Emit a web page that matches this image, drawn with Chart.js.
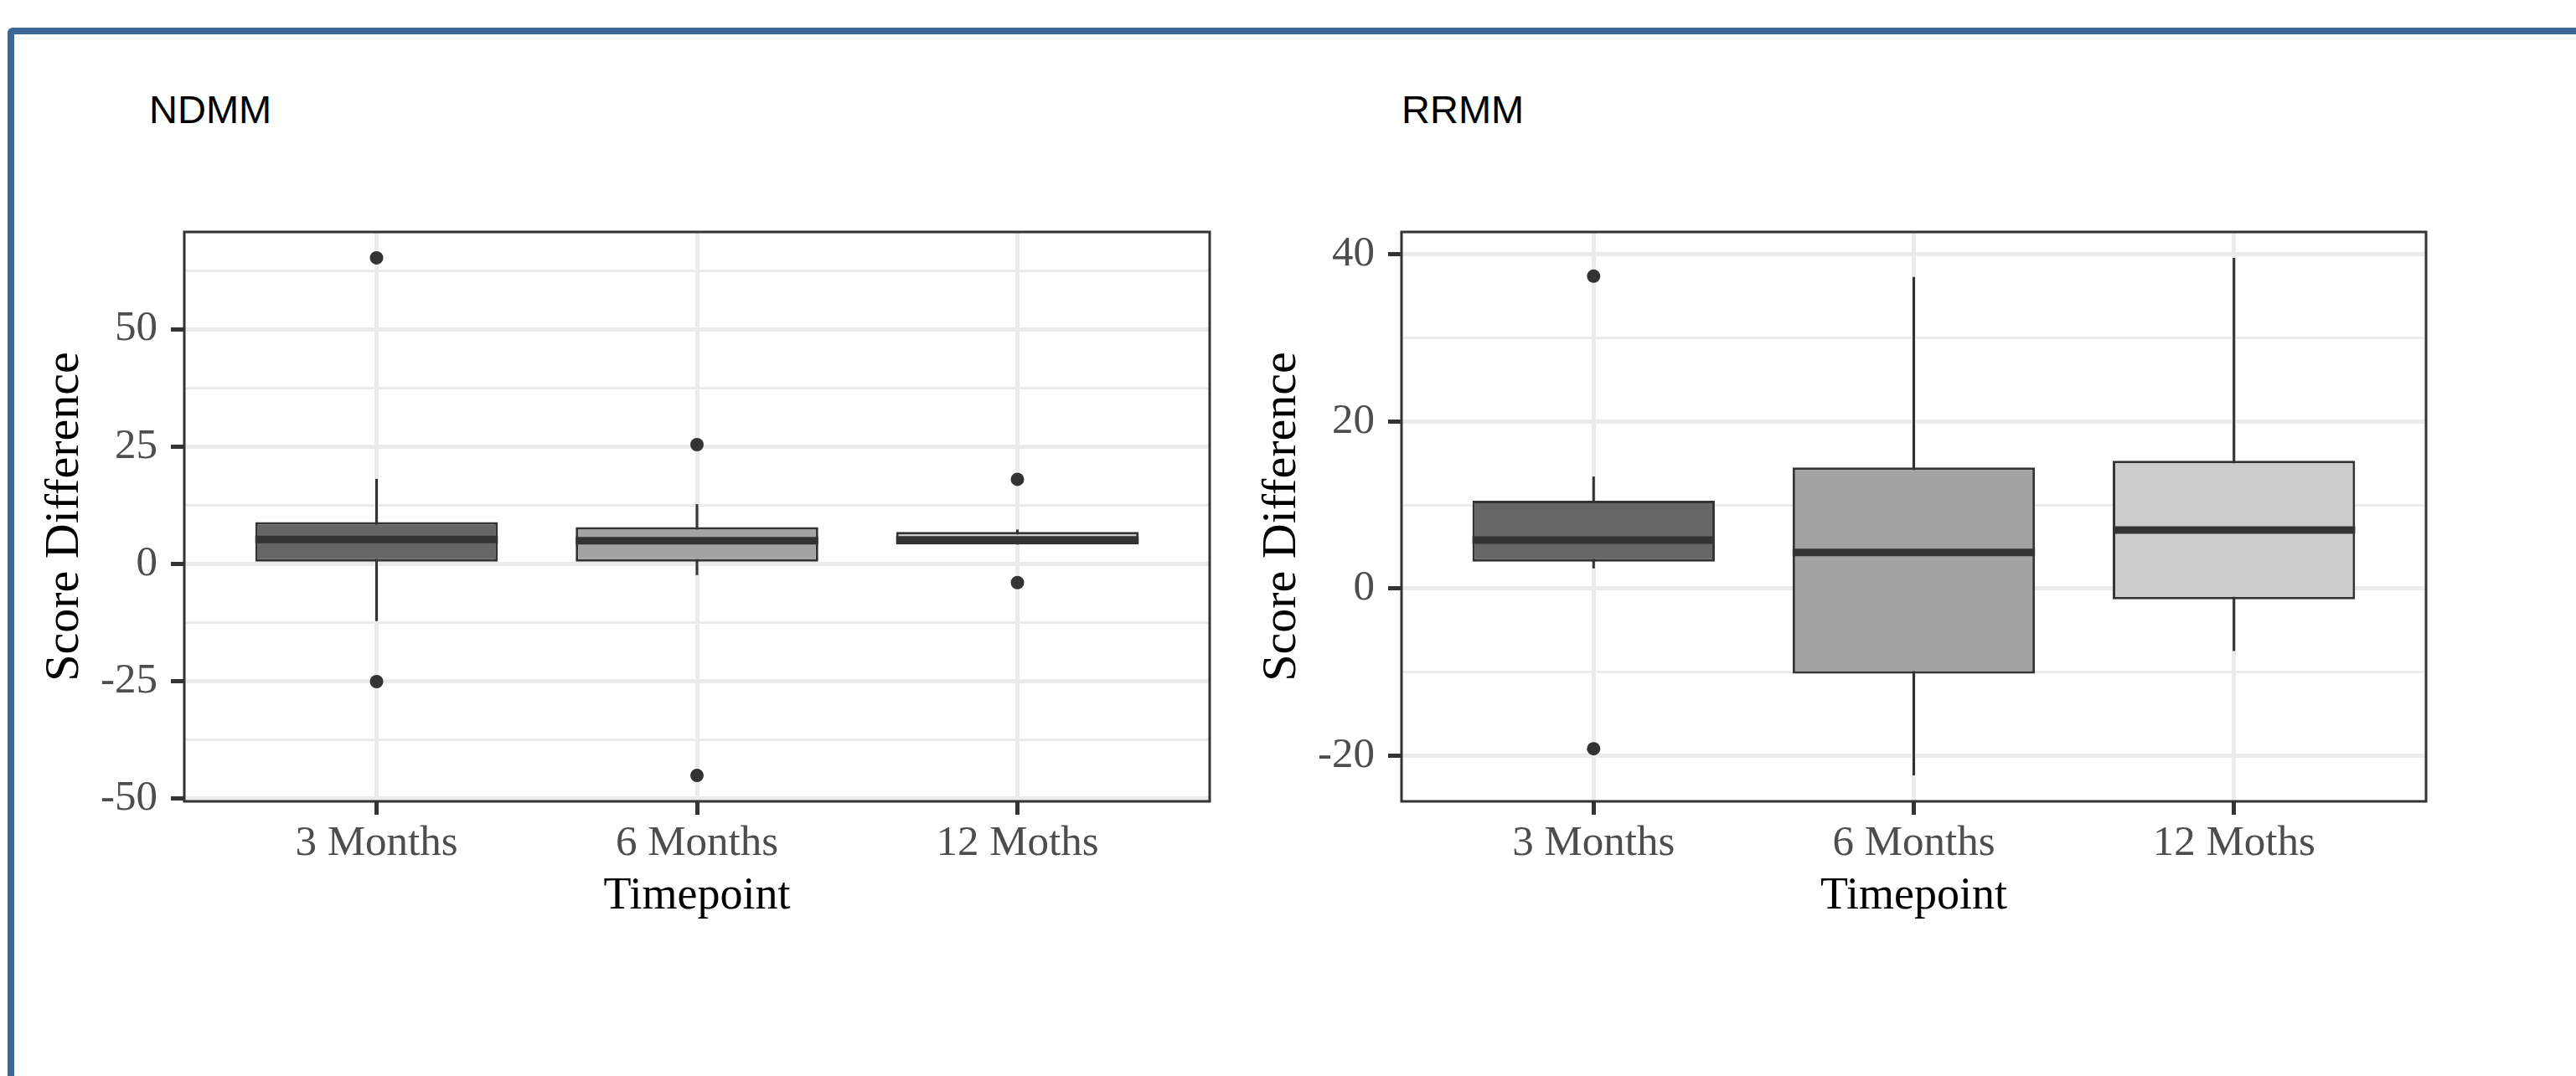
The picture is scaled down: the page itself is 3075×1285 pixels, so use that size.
<!DOCTYPE html>
<html>
<head>
<meta charset="utf-8">
<title>Score Difference by Timepoint</title>
<script src="https://cdn.jsdelivr.net/npm/chart.js@4.4.1/dist/chart.umd.min.js"></script>
<style>
  html, body { margin: 0; padding: 0; background: #fff; overflow: hidden; }
  body { width: 3075px; height: 1285px; position: relative; }
  .frame {
    position: absolute; left: 9px; top: 33px; width: 3200px; height: 1400px;
    border: 8px solid #3b6596; border-radius: 6px; box-sizing: border-box;
  }
  .panel-title {
    position: absolute; top: 107px; font-family: "Liberation Sans", Arial, sans-serif;
    font-size: 47px; line-height: 47px; color: #000;
  }
  canvas { position: absolute; top: 180px; }
</style>
</head>
<body>
<div class="frame"></div>
<div class="panel-title" style="left:178px">NDMM</div>
<div class="panel-title" style="left:1673px">RRMM</div>
<canvas id="ndmmChart" width="1500" height="930" style="left:20px"></canvas>
<canvas id="rrmmChart" width="1499" height="930" style="left:1473px"></canvas>
<script>
const timepoints = ["3 Months", "6 Months", "12 Moths"];
const boxFills = ["#666666", "#A3A3A3", "#CCCCCC"];

// NDMM panel
const ndmmLower = [-12.2, -2.4, 4.1];
const ndmmQ1 = [0, 0, 4.1];
const ndmmMedian = [5.2, 4.9, 5.1];
const ndmmQ3 = [8.9, 7.8, 6.8];
const ndmmUpper = [18.1, 12.7, 7.3];
const ndmmOutliers = [[65.2, -25.1], [25.4, -45.1], [18.0, -4.0]];
const ndmmTicks = [-50, -25, 0, 25, 50];
const ndmmMinorTicks = [-37.5, -12.5, 12.5, 37.5, 62.5];

// RRMM panel
const rrmmLower = [2.4, -22.4, -7.5];
const rrmmQ1 = [3.2, -10.2, -1.3];
const rrmmMedian = [5.8, 4.3, 7.0];
const rrmmQ3 = [10.5, 14.5, 15.3];
const rrmmUpper = [13.4, 37.3, 39.6];
const rrmmOutliers = [[37.4, -19.2], [], []];
const rrmmTicks = [-20, 0, 20, 40];
const rrmmMinorTicks = [-10, 10, 30];

Chart.defaults.font.family = "'Liberation Serif', 'Times New Roman', serif";

function makeChart(id, lower, q1, median, q3, upper, outliers, ticks, minorTicks) {
  const xs = timepoints.map((t, i) => i + 1);

  // ggplot style 5% expansion of the data range
  const all = lower.concat(upper, outliers.flat());
  const lo = Math.min(...all);
  const hi = Math.max(...all);
  const pad = (hi - lo) * 0.05;

  const isMajor = tick => tick && ticks.includes(tick.value);

  // median bars and panel border
  const boxExtras = {
    id: "boxExtras",
    afterDatasetsDraw(chart) {
      const { ctx, chartArea, scales } = chart;
      const meta = chart.getDatasetMeta(1);
      ctx.save();
      ctx.strokeStyle = "#333333";
      ctx.lineWidth = 9;
      meta.data.forEach((bar, i) => {
        const y = scales.y.getPixelForValue(median[i]);
        ctx.beginPath();
        ctx.moveTo(bar.x - bar.width / 2, y);
        ctx.lineTo(bar.x + bar.width / 2, y);
        ctx.stroke();
      });
      ctx.lineWidth = 3;
      ctx.strokeRect(chartArea.left, chartArea.top, chartArea.width, chartArea.height);
      ctx.restore();
    }
  };

  return new Chart(document.getElementById(id), {
    type: "bar",
    data: {
      datasets: [
        {
          label: "whisker",
          data: xs.map((x, i) => ({ x: x, y: [lower[i], upper[i]] })),
          backgroundColor: "#333333",
          borderWidth: 0,
          barThickness: 3,
          inflateAmount: 0,
          grouped: false,
          order: 3
        },
        {
          label: "box",
          data: xs.map((x, i) => ({ x: x, y: [q1[i], q3[i]] })),
          backgroundColor: boxFills,
          borderColor: "#333333",
          borderWidth: 3,
          borderSkipped: false,
          barPercentage: 0.757,
          categoryPercentage: 1,
          grouped: false,
          order: 2
        },
        {
          type: "line",
          label: "outliers",
          data: outliers.flatMap((vals, i) => vals.map(v => ({ x: i + 1, y: v }))),
          showLine: false,
          pointRadius: 8,
          pointHoverRadius: 8,
          pointBackgroundColor: "#333333",
          pointBorderWidth: 0,
          order: 1
        }
      ]
    },
    options: {
      responsive: false,
      animation: false,
      devicePixelRatio: 1,
      events: [],
      layout: { padding: { left: 0, right: 76, top: 97, bottom: 12 } },
      plugins: {
        legend: { display: false },
        tooltip: { enabled: false }
      },
      scales: {
        x: {
          type: "linear",
          min: 0.4,
          max: timepoints.length + 0.6,
          offset: false,
          afterBuildTicks: s => { s.ticks = xs.map(v => ({ value: v })); },
          afterFit: s => { s.height = 141; },
          grid: {
            offset: false,
            color: "#EBEBEB",
            lineWidth: 5,
            tickLength: 16,
            tickColor: "#333333",
            tickWidth: 5
          },
          border: { display: false },
          ticks: {
            callback: v => timepoints[v - 1],
            color: "#4D4D4D",
            font: { size: 51, lineHeight: 1.2 },
            padding: 4,
            maxRotation: 0,
            autoSkip: false
          },
          title: {
            display: true,
            text: "Timepoint",
            color: "#000000",
            font: { size: 54, lineHeight: 1 },
            padding: { top: 0, bottom: 0 }
          }
        },
        y: {
          min: lo - pad,
          max: hi + pad,
          afterBuildTicks: s => {
            s.ticks = ticks.concat(minorTicks).sort((a, b) => a - b).map(v => ({ value: v }));
          },
          afterFit: s => { s.width = 200; },
          grid: {
            color: "#EBEBEB",
            lineWidth: c => isMajor(c.tick) ? 5 : 3,
            tickLength: 16,
            tickColor: c => isMajor(c.tick) ? "#333333" : "rgba(0,0,0,0)",
            tickWidth: 5
          },
          border: { display: false },
          ticks: {
            callback: v => ticks.includes(v) ? String(v) : "",
            color: "#4D4D4D",
            font: { size: 51, lineHeight: 1.2 },
            padding: 16,
            autoSkip: false
          },
          title: {
            display: true,
            text: "Score Difference",
            color: "#000000",
            font: { size: 58, lineHeight: 1 },
            padding: { top: 29, bottom: 0 }
          }
        }
      }
    },
    plugins: [boxExtras]
  });
}

makeChart("ndmmChart", ndmmLower, ndmmQ1, ndmmMedian, ndmmQ3, ndmmUpper, ndmmOutliers, ndmmTicks, ndmmMinorTicks);
makeChart("rrmmChart", rrmmLower, rrmmQ1, rrmmMedian, rrmmQ3, rrmmUpper, rrmmOutliers, rrmmTicks, rrmmMinorTicks);
</script>
</body>
</html>
